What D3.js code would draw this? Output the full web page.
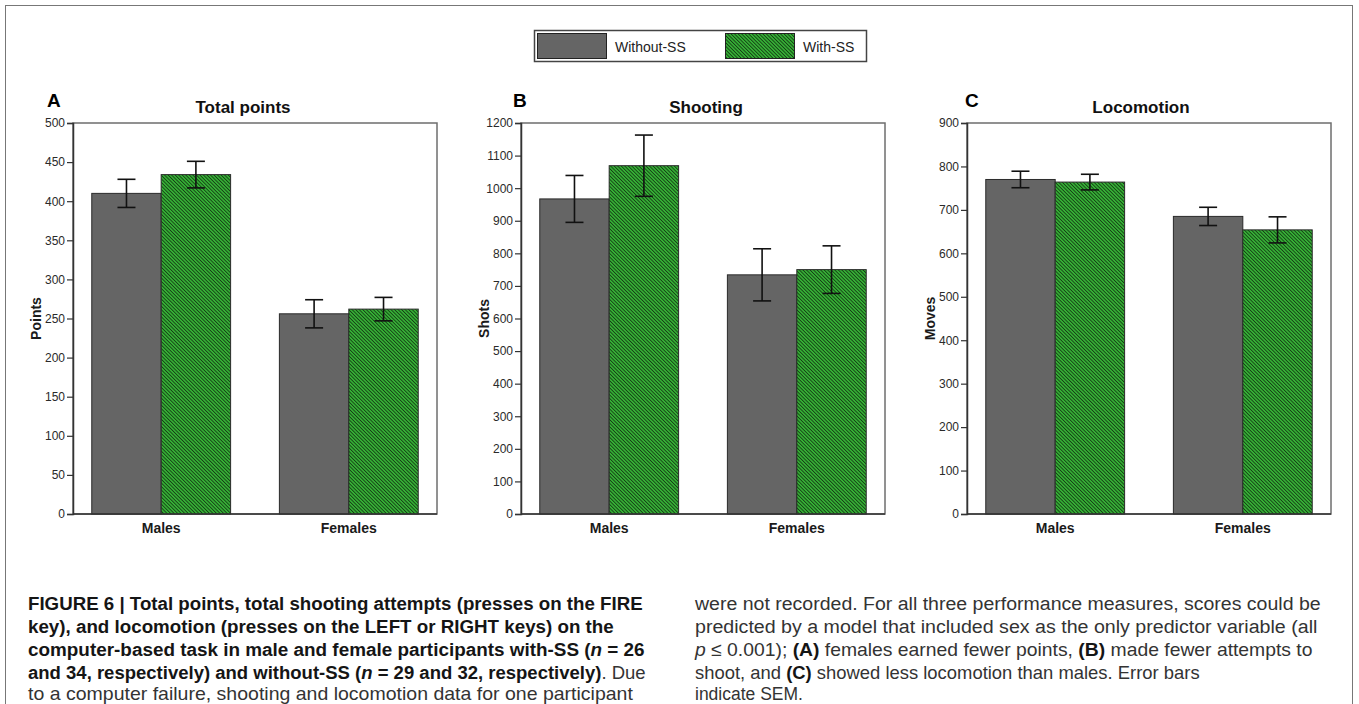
<!DOCTYPE html>
<html>
<head>
<meta charset="utf-8">
<script src="https://cdn.jsdelivr.net/npm/d3@7"></script>
<style>
  body { margin: 0; background: #fff; }
  svg { display: block; }
  text { white-space: pre; }
</style>
</head>
<body>
<div id="chart"></div>
<script>
	// data
	var groups = ["Males", "Females"];
	var conditions = ["Without-SS", "With-SS"];
	var panelLetters = ["A", "B", "C"];
	var panelTitles = ["Total points", "Shooting", "Locomotion"];
	var yLabels = ["Points", "Shots", "Moves"];
	var yMaxes = [500, 1200, 900];
	var yTickSteps = [50, 100, 100];

	// means and SEM per group, as [Without-SS, With-SS]
	var pointsMean = [[410, 434], [256, 262]];
	var pointsSem = [[18, 17], [18, 15]];
	var shotsMean = [[967, 1069], [734, 750]];
	var shotsSem = [[72, 94], [80, 73]];
	var movesMean = [[770, 764], [685, 654]];
	var movesSem = [[19, 18], [21, 30]];

	// caption, [text, style] segments: b bold, i italic, n normal
	var captionLeft = [
		[["FIGURE 6 | Total points, total shooting attempts (presses on the FIRE", "b"]],
		[["key), and locomotion (presses on the LEFT or RIGHT keys) on the", "b"]],
		[["computer-based task in male and female participants with-SS (", "b"], ["n", "bi"], [" = 26", "b"]],
		[["and 34, respectively) and without-SS (", "b"], ["n", "bi"], [" = 29 and 32, respectively)", "b"], [". Due", "n"]],
		[["to a computer failure, shooting and locomotion data for one participant", "n"]]
	];
	var captionRight = [
		[["were not recorded. For all three performance measures, scores could be", "n"]],
		[["predicted by a model that included sex as the only predictor variable (all", "n"]],
		[["p", "i"], [" \u2264 0.001); ", "n"], ["(A)", "b"], [" females earned fewer points, ", "n"], ["(B)", "b"], [" made fewer attempts to", "n"]],
		[["shoot, and ", "n"], ["(C)", "b"], [" showed less locomotion than males. Error bars", "n"]],
		[["indicate SEM.", "n"]]
	];

	var means = [pointsMean, shotsMean, movesMean];
	var sems = [pointsSem, shotsSem, movesSem];

	// layout
	var width = 1359, height = 704;
	var plotLefts = [73, 521, 967],
		plotW = 364,
		plotTop = 123,
		plotBottom = 514,
		plotH = plotBottom - plotTop;
	var titleShift = [-12, 3, -8];
	var letterX = [47, 513, 965];
	var fillColors = { "Without-SS": "#656565", "With-SS": "url(#hatch)" };
	var chartFont = "'Liberation Sans', Arial, sans-serif";
	var captionFont = "'Liberation Sans Narrow', 'Liberation Sans', Arial, sans-serif";

	var svg = d3.select("#chart")
		.append("svg")
			.attr("width", width)
			.attr("height", height)
			.style("font-family", chartFont);

	// hatch pattern for With-SS
	var pat = svg.append("defs").append("pattern")
		.attr("id", "hatch")
		.attr("patternUnits", "userSpaceOnUse")
		.attr("width", 2.5)
		.attr("height", 2.5)
		.attr("patternTransform", "rotate(-45)");
	pat.append("rect")
		.attr("width", 2.5)
		.attr("height", 2.5)
		.attr("fill", "#36b336");
	pat.append("rect")
		.attr("width", 0.9)
		.attr("height", 2.5)
		.attr("fill", "#153d15");

	// outer frame
	svg.append("rect")
		.attr("x", 5.5)
		.attr("y", 5.5)
		.attr("width", 1347)
		.attr("height", 720)
		.attr("fill", "none")
		.attr("stroke", "#777")
		.attr("stroke-width", 1);

	// legend
	var legend = svg.append("g");
	legend.append("rect")
		.attr("x", 534.5)
		.attr("y", 30.5)
		.attr("width", 332)
		.attr("height", 31)
		.attr("fill", "#fff")
		.attr("stroke", "#444")
		.attr("stroke-width", 1.5);
	var legendX = [537, 725];
	conditions.forEach(function(c, i) {
		legend.append("rect")
			.attr("x", legendX[i] + 0.5)
			.attr("y", 33.5)
			.attr("width", 69)
			.attr("height", 25)
			.attr("fill", fillColors[c])
			.attr("stroke", "#222")
			.attr("stroke-width", 1);
		legend.append("text")
			.attr("x", legendX[i] + 78)
			.attr("y", 52)
			.attr("font-size", "14px")
			.attr("fill", "#222")
			.text(c);
	});

	// panels
	panelLetters.forEach(function(letter, p) {
		var g = svg.append("g")
			.attr("transform", "translate(" + plotLefts[p] + "," + plotTop + ")");

		var x0 = d3.scaleBand()
			.domain(groups)
			.range([0, plotW])
			.paddingInner(0.26)
			.paddingOuter(0.1);
		var x1 = d3.scaleBand()
			.domain(conditions)
			.range([0, x0.bandwidth()]);
		var y = d3.scaleLinear()
			.domain([0, yMaxes[p]])
			.range([plotH, 0]);

		// plot frame
		g.append("rect")
			.attr("width", plotW)
			.attr("height", plotH)
			.attr("fill", "none")
			.attr("stroke", "#6e6e6e")
			.attr("stroke-width", 1.5);

		var rows = [];
		groups.forEach(function(grp, i) {
			conditions.forEach(function(c, j) {
				rows.push({ group: grp, cond: c, mean: means[p][i][j], sem: sems[p][i][j] });
			});
		});

		// bars
		g.selectAll(".bar")
			.data(rows)
			.enter().append("rect")
				.attr("class", "bar")
				.attr("x", function(d) { return x0(d.group) + x1(d.cond); })
				.attr("y", function(d) { return y(d.mean); })
				.attr("width", x1.bandwidth())
				.attr("height", function(d) { return plotH - y(d.mean); })
				.attr("fill", function(d) { return fillColors[d.cond]; })
				.attr("stroke", "#2a2a2a")
				.attr("stroke-width", 1);

		// error bars
		var err = g.selectAll(".err")
			.data(rows)
			.enter().append("g")
				.attr("class", "err")
				.attr("transform", function(d) {
					return "translate(" + (x0(d.group) + x1(d.cond) + x1.bandwidth() / 2) + ",0)";
				})
				.attr("stroke", "#111")
				.attr("stroke-width", 1.6);
		err.append("line")
			.attr("y1", function(d) { return y(d.mean + d.sem); })
			.attr("y2", function(d) { return y(d.mean - d.sem); });
		err.append("line")
			.attr("x1", -9).attr("x2", 9)
			.attr("y1", function(d) { return y(d.mean + d.sem); })
			.attr("y2", function(d) { return y(d.mean + d.sem); });
		err.append("line")
			.attr("x1", -9).attr("x2", 9)
			.attr("y1", function(d) { return y(d.mean - d.sem); })
			.attr("y2", function(d) { return y(d.mean - d.sem); });

		// Y Axis
		var yAxisCall = d3.axisLeft(y)
			.tickValues(d3.range(0, yMaxes[p] + 1, yTickSteps[p]))
			.tickSize(6)
			.tickPadding(2)
			.tickFormat(function(d) { return d; });
		var yAx = g.append("g").call(yAxisCall);
		yAx.select(".domain").attr("stroke", "#333").attr("stroke-width", 1.5);
		yAx.selectAll(".tick line").attr("stroke", "#333").attr("stroke-width", 1.2);
		yAx.selectAll(".tick text")
			.attr("fill", "#2a2a2a")
			.style("font-size", "12px")
			.style("font-family", chartFont);

		// bottom axis line
		g.append("line")
			.attr("x1", 0).attr("x2", plotW)
			.attr("y1", plotH).attr("y2", plotH)
			.attr("stroke", "#333")
			.attr("stroke-width", 1.5);

		// category labels
		g.selectAll(".cat")
			.data(groups)
			.enter().append("text")
				.attr("class", "cat")
				.attr("x", function(d) { return x0(d) + x0.bandwidth() / 2; })
				.attr("y", plotH + 19)
				.attr("text-anchor", "middle")
				.attr("font-size", "14px")
				.attr("font-weight", "bold")
				.attr("fill", "#1a1a1a")
				.text(function(d) { return d; });

		// y label
		g.append("text")
			.attr("transform", "translate(-32," + (plotH / 2) + ") rotate(-90)")
			.attr("text-anchor", "middle")
			.attr("font-size", "14px")
			.attr("font-weight", "bold")
			.attr("fill", "#1a1a1a")
			.text(yLabels[p]);

		// title
		g.append("text")
			.attr("x", plotW / 2 + titleShift[p])
			.attr("y", -10)
			.attr("text-anchor", "middle")
			.attr("font-size", "17px")
			.attr("font-weight", "bold")
			.attr("fill", "#111")
			.text(panelTitles[p]);

		// panel letter
		svg.append("text")
			.attr("x", letterX[p])
			.attr("y", 107)
			.attr("font-size", "19px")
			.attr("font-weight", "bold")
			.attr("fill", "#000")
			.text(letter);
	});

	// caption
	var capBase = [610, 633, 656, 679, 700];
	var leftEnds = [643, 614, 645, 646, 633];
	var rightEnds = [1321, 1318, 1313, 1200, 803];

	function captionColumn(lines, x, ends) {
		lines.forEach(function(segs, i) {
			var t = svg.append("text")
				.attr("x", 0)
				.attr("y", 0)
				.style("font-family", captionFont)
				.attr("font-size", "19px");
			segs.forEach(function(s) {
				t.append("tspan")
					.attr("font-weight", s[1].indexOf("b") >= 0 ? "bold" : "normal")
					.attr("font-style", s[1].indexOf("i") >= 0 ? "italic" : "normal")
					.attr("fill", s[1].indexOf("b") >= 0 ? "#151515" : "#333")
					.text(s[0]);
			});
			var k = (ends[i] - x) / t.node().getComputedTextLength();
			t.attr("transform", "translate(" + x + "," + capBase[i] + ") scale(" + k + ",1)");
		});
	}

	captionColumn(captionLeft, 28, leftEnds);
	captionColumn(captionRight, 695, rightEnds);
</script>
</body>
</html>
